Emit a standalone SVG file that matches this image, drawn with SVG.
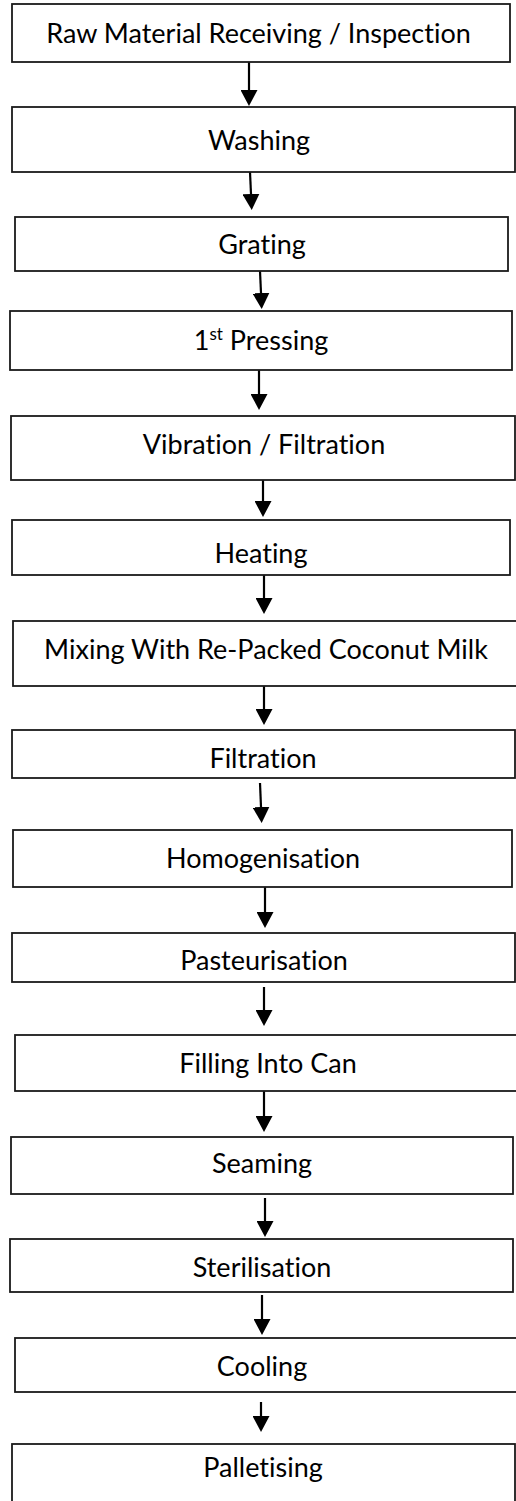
<svg xmlns="http://www.w3.org/2000/svg" width="516" height="1501" viewBox="0 0 516 1501">
<style>
  .box { fill: #ffffff; stroke: #1a1a1a; stroke-width: 1.8; }
  .lbl { font-family: "Lato", "Liberation Sans", sans-serif; font-size: 27px; fill: #000000; text-anchor: middle; font-variant-ligatures: none; }
  .sup { font-size: 17px; }
  .conn { stroke: #000000; stroke-width: 2.2; fill: none; marker-end: url(#arrow); }
</style>
<defs>
  <marker id="arrow" markerUnits="userSpaceOnUse" markerWidth="16" markerHeight="17" refX="0" refY="8.5" orient="auto">
    <path d="M0,0 L16,8.5 L0,17 Z" fill="#000000"/>
  </marker>
</defs>
<rect x="0" y="0" width="516" height="1501" fill="#ffffff"/>
<g id="connectors">
  <line class="conn" x1="249" y1="62" x2="249" y2="90"/>
  <line class="conn" x1="250" y1="172" x2="251" y2="194"/>
  <line class="conn" x1="260" y1="271" x2="261" y2="293"/>
  <line class="conn" x1="259" y1="370" x2="259" y2="394"/>
  <line class="conn" x1="263" y1="477" x2="263" y2="501"/>
  <line class="conn" x1="264" y1="575" x2="264" y2="598"/>
  <line class="conn" x1="264" y1="686" x2="264" y2="709"/>
  <line class="conn" x1="260" y1="783" x2="261" y2="807"/>
  <line class="conn" x1="265" y1="887" x2="265" y2="912"/>
  <line class="conn" x1="264" y1="987" x2="264" y2="1010"/>
  <line class="conn" x1="264" y1="1091" x2="264" y2="1116"/>
  <line class="conn" x1="265" y1="1198" x2="265" y2="1221"/>
  <line class="conn" x1="262" y1="1295" x2="262" y2="1319"/>
  <line class="conn" x1="261" y1="1402" x2="261" y2="1416"/>
</g>
<g id="n1"><rect class="box" x="12" y="4" width="498" height="58"/><text class="lbl" x="258.5" y="43">Raw Material Receiving / Inspection</text></g>
<g id="n2"><rect class="box" x="12" y="107" width="503" height="65"/><text class="lbl" x="259" y="150">Washing</text></g>
<g id="n3"><rect class="box" x="15" y="217" width="493" height="54"/><text class="lbl" x="262" y="254">Grating</text></g>
<g id="n4"><rect class="box" x="10" y="311" width="502" height="59"/><text class="lbl" x="261" y="350">1<tspan class="sup" dy="-10">st</tspan><tspan dy="10"> Pressing</tspan></text></g>
<g id="n5"><rect class="box" x="11" y="416" width="504" height="64"/><text class="lbl" x="264" y="454">Vibration / Filtration</text></g>
<g id="n6"><rect class="box" x="12" y="520" width="498" height="55"/><text class="lbl" x="261" y="563">Heating</text></g>
<g id="n7"><rect class="box" x="13" y="621" width="507" height="65"/><text class="lbl" x="266" y="659">Mixing With Re-Packed Coconut Milk</text></g>
<g id="n8"><rect class="box" x="12" y="730" width="503" height="48"/><text class="lbl" x="263" y="768">Filtration</text></g>
<g id="n9"><rect class="box" x="13" y="830" width="499" height="57"/><text class="lbl" x="263" y="868">Homogenisation</text></g>
<g id="n10"><rect class="box" x="12" y="933" width="503" height="49"/><text class="lbl" x="264" y="970">Pasteurisation</text></g>
<g id="n11"><rect class="box" x="15" y="1035" width="505" height="56"/><text class="lbl" x="268" y="1073">Filling Into Can</text></g>
<g id="n12"><rect class="box" x="11" y="1137" width="502" height="57"/><text class="lbl" x="262" y="1173">Seaming</text></g>
<g id="n13"><rect class="box" x="10" y="1239" width="503" height="53"/><text class="lbl" x="262" y="1277">Sterilisation</text></g>
<g id="n14"><rect class="box" x="15" y="1338" width="505" height="54"/><text class="lbl" x="262" y="1376">Cooling</text></g>
<g id="n15"><rect class="box" x="12" y="1444" width="503" height="60"/><text class="lbl" x="263" y="1477">Palletising</text></g>
</svg>
